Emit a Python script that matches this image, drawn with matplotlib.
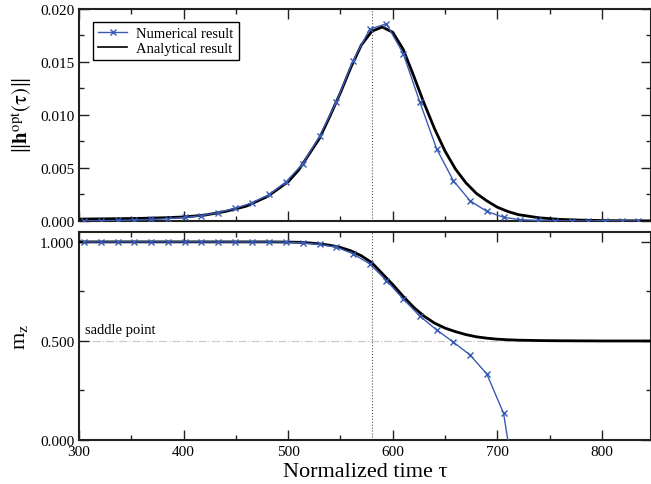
import matplotlib
matplotlib.use('Agg')
import matplotlib.pyplot as plt
from matplotlib.ticker import MultipleLocator, FormatStrFormatter

# numerical result (markers)
tau_num = [305, 321, 337, 353, 369, 385, 401, 417, 433, 449, 465, 482, 498,
           514, 530, 546, 562, 578, 594, 610, 626, 642, 658, 674, 690, 706,
           722, 739, 755, 771, 787, 803, 819, 835]
h_num = [0.00002, 0.00003, 0.00005, 0.00010, 0.00015, 0.00022, 0.00033,
         0.00050, 0.00080, 0.00118, 0.00170, 0.00250, 0.00370, 0.00540,
         0.00800, 0.01120, 0.01510, 0.01810, 0.01860, 0.01580, 0.01120,
         0.00680, 0.00380, 0.00190, 0.00090, 0.00035, 0.00012, 0.00005,
         0.00002, 0.00001, 0.0, 0.00003, 0.0, 0.0]
mz_num = [1.0, 1.0, 1.0, 1.0, 1.0, 1.0, 1.0, 1.0, 1.0, 1.0, 1.0, 1.0, 0.999,
          0.995, 0.987, 0.974, 0.940, 0.889, 0.805, 0.712, 0.625, 0.556,
          0.494, 0.429, 0.333, 0.135, -0.40]

# analytical result
tau_an = [300, 320, 340, 360, 380, 400, 420, 440, 460, 480, 500, 510, 520,
          530, 540, 550, 560, 570, 580, 590, 600, 610, 620, 630, 640, 650,
          660, 670, 680, 690, 700, 710, 720, 740, 760, 780, 800, 820, 847]
h_an = [0.00018, 0.0002, 0.00022, 0.00025, 0.0003, 0.00038, 0.00055, 0.0009,
        0.0014, 0.0023, 0.0037, 0.0048, 0.0063, 0.0078, 0.0099, 0.0121,
        0.0145, 0.0166, 0.0179, 0.0183, 0.0178, 0.0162, 0.0137, 0.0111,
        0.0087, 0.0066, 0.0049, 0.0036, 0.0026, 0.0019, 0.0013, 0.0009,
        0.0006, 0.0003, 0.00015, 0.00008, 0.00004, 0.00002, 0.00001]
mz_an = [1.0, 1.0, 1.0, 1.0, 1.0, 1.0, 1.0, 1.0, 1.0, 1.0, 0.999, 0.998,
         0.995, 0.99, 0.983, 0.972, 0.955, 0.93, 0.895, 0.84, 0.785, 0.725,
         0.67, 0.625, 0.59, 0.565, 0.547, 0.532, 0.521, 0.514, 0.509, 0.506,
         0.504, 0.502, 0.501, 0.5005, 0.5, 0.5, 0.5]

tau_switch = 580
saddle = 0.5

plt.rcParams['font.family'] = ['Liberation Serif', 'DejaVu Serif']
plt.rcParams['mathtext.fontset'] = 'stix'

blue = '#3a5bb4'
fig = plt.figure(figsize=(6.51, 4.85), dpi=100)
ax1 = fig.add_axes([0.1214, 0.5423, 0.8786, 0.4371])
ax2 = fig.add_axes([0.1214, 0.0907, 0.8786, 0.4289])

# top panel: field amplitude
ax1.plot(tau_an, h_an, color='black', lw=2.0, zorder=3)
ax1.plot(tau_num, h_num, color=blue, lw=1.0, marker='x', ms=5, mew=1.0,
         zorder=4)
ax1.axvline(tau_switch, color='#555555', lw=0.8, ls=':', zorder=1)
ax1.set_xlim(300, 847)
ax1.set_ylim(0, 0.020)
ax1.yaxis.set_major_locator(MultipleLocator(0.005))
ax1.yaxis.set_minor_locator(MultipleLocator(0.0025))
ax1.yaxis.set_major_formatter(FormatStrFormatter('%.3f'))
ax1.set_ylabel(r'$\Vert\mathbf{h}^{\mathrm{opt}}(\mathrm{\tau})\Vert$',
               fontsize=15)
ax1.tick_params(labelbottom=False)

h1, = ax1.plot([], [], color=blue, lw=1.0, marker='x', ms=5, mew=1.0,
               label='Numerical result')
h2, = ax1.plot([], [], color='black', lw=1.2, label='Analytical result')
leg = ax1.legend(handles=[h1, h2], loc='upper left', fontsize=10.5,
                 fancybox=False, edgecolor='black', framealpha=1,
                 handlelength=2.0, handletextpad=0.6, borderpad=0.35,
                 labelspacing=0.15, bbox_to_anchor=(0.012, 0.975))
leg.get_frame().set_linewidth(1.0)

# bottom panel: magnetisation
ax2.axhline(saddle, color='#cccccc', lw=0.9, ls='-.', zorder=1)
ax2.plot(tau_an, mz_an, color='black', lw=2.0, zorder=3)
ax2.plot(tau_num[:len(mz_num)], mz_num, color=blue, lw=1.0, marker='x',
         ms=5, mew=1.0, zorder=4)
ax2.axvline(tau_switch, color='#555555', lw=0.8, ls=':', zorder=1)
ax2.text(306, 0.525, 'saddle point', fontsize=10.5, va='bottom', ha='left')
ax2.set_xlim(300, 847)
ax2.set_ylim(0, 1.05)
ax2.yaxis.set_major_locator(MultipleLocator(0.5))
ax2.yaxis.set_minor_locator(MultipleLocator(0.25))
ax2.yaxis.set_major_formatter(FormatStrFormatter('%.3f'))
ax2.set_ylabel(r'm$_{\mathrm{z}}$', fontsize=16)
ax2.set_xlabel('Normalized time τ', fontsize=16, labelpad=3)

for ax in (ax1, ax2):
    ax.xaxis.set_major_locator(MultipleLocator(100))
    ax.xaxis.set_minor_locator(MultipleLocator(50))
    ax.tick_params(which='both', direction='in', top=True, right=True,
                   labelsize=11, width=1.0, color='#222222')
    ax.tick_params(which='major', length=7)
    ax.tick_params(which='minor', length=3.5)
    for s in ax.spines.values():
        s.set_linewidth(1.5)
        s.set_color('#222222')
ax1.yaxis.set_label_coords(-0.078, 0.5)
ax2.yaxis.set_label_coords(-0.085, 0.5)

fig.savefig('out.png', dpi=100)
